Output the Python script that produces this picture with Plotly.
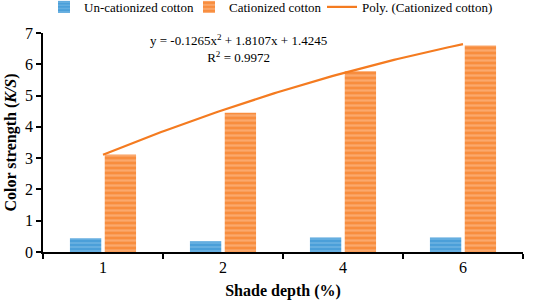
import numpy as np
import plotly.graph_objects as go

categories = ["1", "2", "4", "6"]
uncationized = [0.44, 0.34, 0.46, 0.46]
cationized = [3.12, 4.45, 5.78, 6.60]
poly_coef = [-0.1265, 1.8107, 1.4245]
eq_text = "y = -0.1265x<sup>2</sup> + 1.8107x + 1.4245"
r2_text = "R<sup>2</sup> = 0.9972"

xpos = np.arange(1, len(categories) + 1)
xs = np.linspace(1, len(categories), 100)
ys = np.polyval(poly_coef, xs)

font = "Liberation Serif, Times New Roman, serif"

fig = go.Figure()
fig.add_trace(go.Bar(
    x=xpos, y=uncationized, name="Un-cationized cotton", legend="legend",
    marker=dict(color="#4B9FD9", line=dict(width=0),
                pattern=dict(shape="-", fgcolor="#8CC6EC", size=4, solidity=0.4)),
))
fig.add_trace(go.Bar(
    x=xpos, y=cationized, name="Cationized cotton", legend="legend2",
    marker=dict(color="#F88D3E", line=dict(width=0),
                pattern=dict(shape="-", fgcolor="#FDC39A", size=5, solidity=0.45)),
))
fig.add_trace(go.Scatter(
    x=xs, y=ys, mode="lines", name="Poly. (Cationized cotton)", legend="legend3",
    line=dict(color="#F47B20", width=2.2),
))

fig.add_annotation(x=2.125, y=1.015, xref="x", yref="paper", yanchor="top",
                   text=eq_text + "<br>" + r2_text,
                   showarrow=False, font=dict(family=font, size=13, color="black"),
                   align="center")

def leg(xpix):
    return dict(orientation="h", x=(xpix - 43) / 480, xanchor="left", y=1.119, yanchor="middle",
                yref="paper", font=dict(family=font, size=13), itemwidth=30,
                bgcolor="rgba(0,0,0,0)")

fig.update_layout(
    width=533, height=306,
    margin=dict(l=43, r=10, t=33, b=54, autoexpand=False),
    paper_bgcolor="white", plot_bgcolor="white",
    barmode="group", bargap=0.42, bargroupgap=0.1,
    font=dict(family=font, size=13, color="black"),
    legend=leg(44), legend2=leg(189), legend3=leg(322),
    showlegend=True,
)

fig.update_xaxes(
    range=[0.5, len(categories) + 0.5], automargin=False,
    tickvals=list(xpos), ticktext=categories, ticks="",
    showline=True, linecolor="black", linewidth=1.5,
    showgrid=False, zeroline=False,
    tickfont=dict(family=font, size=16),
    minor=dict(tickvals=list(np.arange(0.5, len(categories) + 1, 1.0)),
               ticks="outside", ticklen=5, tickcolor="black", tickwidth=1.5, showgrid=False),
    title=dict(text="<b>Shade depth (%)</b>", font=dict(family=font, size=16), standoff=10),
)
fig.update_yaxes(
    range=[0, 7], dtick=1, ticks="outside", ticklen=5, tickcolor="black", tickwidth=1.5,
    showline=True, linecolor="black", linewidth=1.5, automargin=False,
    showgrid=False, zeroline=False,
    tickfont=dict(family=font, size=16),
    title=dict(text="<b>Color strength (<i>K/S</i>)</b>", font=dict(family=font, size=16), standoff=4),
)

# remove the default 8px page margin so the figure sits at the window's top-left
fig.write_html("out.html", config={"displayModeBar": False},
               post_script="document.body.style.margin='0';document.body.style.overflow='hidden';")
